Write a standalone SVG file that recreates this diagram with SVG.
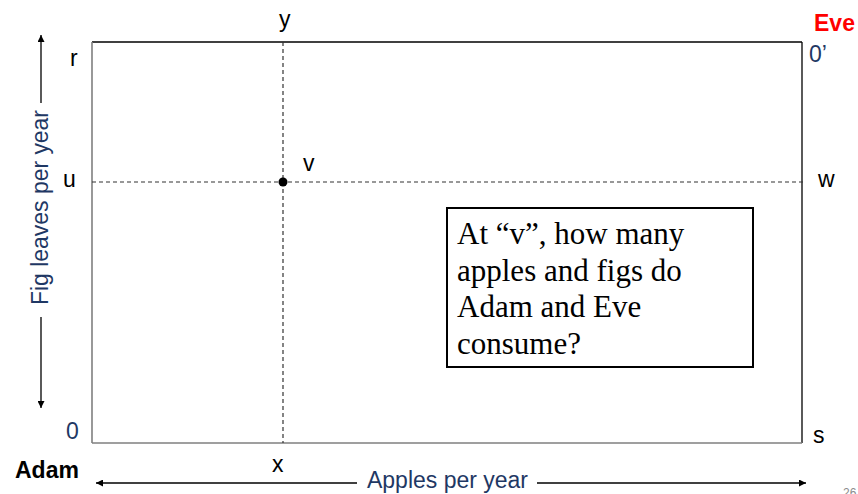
<svg xmlns="http://www.w3.org/2000/svg" width="858" height="494" viewBox="0 0 858 494">
  <style>
    .lbl { font-family: "Liberation Sans", Arial, sans-serif; font-size: 23px; fill: #000; }
    .blue { fill: #1f3864; }
    .bold { font-weight: bold; }
    .axis { stroke: #000; stroke-width: 1.3; fill: none; }
    .dash { stroke: #333; stroke-width: 1.2; stroke-dasharray: 4 3; fill: none; }
    .box { font-family: "Liberation Serif", "Times New Roman", serif; font-size: 31px; fill: #000; }
  </style>
  <defs>
    <marker id="ah" viewBox="0 0 10 10" refX="10" refY="5" markerWidth="7" markerHeight="7" markerUnits="userSpaceOnUse" orient="auto">
      <path d="M0,0 L10,5 L0,10 z" fill="#000"/>
    </marker>
  </defs>
  <rect width="858" height="494" fill="#fff"/>

  <g id="frame">
    <line x1="92" y1="42" x2="802" y2="42" stroke="#000" stroke-width="1.3"/>
    <line x1="802" y1="42" x2="802" y2="443" stroke="#000" stroke-width="1.3"/>
    <line x1="92" y1="42" x2="92" y2="443" stroke="#7f7f7f" stroke-width="1.6"/>
    <line x1="92" y1="443" x2="802" y2="443" stroke="#7f7f7f" stroke-width="1.6"/>
  </g>

  <g id="connectors">
    <line class="dash" x1="283" y1="42" x2="283" y2="443"/>
    <line class="dash" x1="92" y1="182" x2="803" y2="182"/>
    <line class="axis" x1="41" y1="103" x2="41" y2="35" marker-end="url(#ah)"/>
    <line class="axis" x1="41" y1="317" x2="41" y2="408" marker-end="url(#ah)"/>
    <line class="axis" x1="357" y1="483" x2="96" y2="483" marker-end="url(#ah)"/>
    <line class="axis" x1="537" y1="483" x2="806" y2="483" marker-end="url(#ah)"/>
  </g>

  <g id="point-v">
    <circle cx="283" cy="182" r="4.5" fill="#000"/>
    <text class="lbl" x="303" y="171">v</text>
  </g>

  <g id="labels">
    <text class="lbl" x="279" y="27">y</text>
    <text class="lbl" x="70" y="66">r</text>
    <text class="lbl" x="63" y="187">u</text>
    <text class="lbl" x="818" y="187">w</text>
    <text class="lbl blue" x="809" y="62">0’</text>
    <text class="lbl blue" x="66" y="439">0</text>
    <text class="lbl" x="813" y="443">s</text>
    <text class="lbl" x="272" y="472">x</text>
    <text class="lbl bold" x="15" y="478">Adam</text>
    <text class="lbl bold" x="814" y="31" style="fill:#ff0000">Eve</text>
    <text class="lbl blue" x="367" y="488" textLength="161" lengthAdjust="spacingAndGlyphs">Apples per year</text>
    <text class="lbl blue" transform="translate(48,207.5) rotate(-90)" text-anchor="middle" textLength="195" lengthAdjust="spacingAndGlyphs">Fig leaves per year</text>
    <text x="843" y="497" style="font-family:'Liberation Sans',Arial,sans-serif;font-size:12px;fill:#8c8c8c">26</text>
  </g>

  <g id="question-box">
    <rect x="447" y="208" width="306" height="159" fill="#fff" stroke="#000" stroke-width="2"/>
    <text class="box" x="457" y="244">At “v”, how many</text>
    <text class="box" x="457" y="280.5">apples and figs do</text>
    <text class="box" x="457" y="317">Adam and Eve</text>
    <text class="box" x="457" y="353.5">consume?</text>
  </g>
</svg>
